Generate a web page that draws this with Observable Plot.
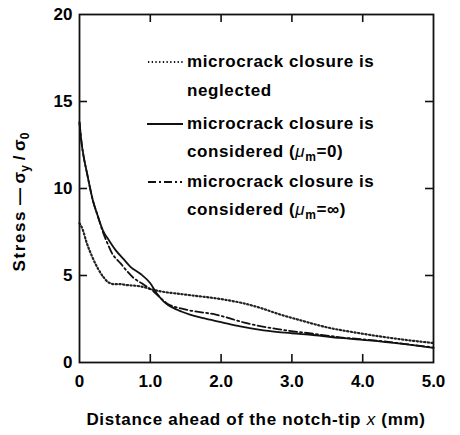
<!DOCTYPE html>
<html>
<head>
<meta charset="utf-8">
<script src="https://cdn.jsdelivr.net/npm/d3@7"></script>
<script src="https://cdn.jsdelivr.net/npm/@observablehq/plot@0.6"></script>
<style>
  html, body { margin: 0; padding: 0; background: #fff; }
  #chart svg { display: block; }
</style>
</head>
<body>
<div id="chart"></div>
<script>
// ---- data ----
const xTicks = [0, 1, 2, 3, 4, 5];
const xTickLabels = ["0", "1.0", "2.0", "3.0", "4.0", "5.0"];
const xInnerTicks = [1, 2, 3, 4];
const yTicks = [0, 5, 10, 15, 20];
const yInnerTicks = [5, 10, 15];

// microcrack closure is neglected (dotted)
const neglectedX = [0, 0.04, 0.1, 0.18, 0.26, 0.34, 0.41, 0.5, 0.58, 0.65, 0.88, 1.05, 1.52, 1.99, 2.36, 2.6, 2.8, 3.1, 3.54, 3.9, 4.24, 4.6, 5.0];
const neglectedY = [8.0, 7.7, 6.9, 6.07, 5.4, 4.9, 4.6, 4.5, 4.5, 4.46, 4.36, 4.17, 3.89, 3.65, 3.36, 3.08, 2.8, 2.45, 1.98, 1.72, 1.5, 1.3, 1.12];

// microcrack closure is considered (mu_m = 0) (solid)
const mu0X = [0, 0.03, 0.06, 0.1, 0.19, 0.26, 0.33, 0.42, 0.51, 0.62, 0.72, 0.86, 1.0, 1.09, 1.19, 1.38, 1.56, 1.75, 2.0, 2.27, 2.6, 3.0, 3.3, 3.68, 4.0, 4.24, 4.6, 5.0];
const mu0Y = [13.8, 12.6, 11.8, 11.0, 9.3, 8.4, 7.6, 7.0, 6.46, 5.95, 5.5, 5.1, 4.55, 3.98, 3.5, 3.03, 2.75, 2.55, 2.32, 2.07, 1.85, 1.68, 1.58, 1.41, 1.3, 1.22, 1.05, 0.84];

// microcrack closure is considered (mu_m = infinity) (dash-dot)
const muInfX = [0, 0.03, 0.06, 0.1, 0.19, 0.26, 0.33, 0.4, 0.46, 0.52, 0.58, 0.65, 0.77, 0.88, 1.05, 1.23, 1.52, 1.94, 2.36, 2.8, 3.3, 3.68, 4.24, 4.6, 5.0];
const muInfY = [13.8, 12.6, 11.8, 11.0, 9.3, 8.4, 7.5, 6.8, 6.27, 5.95, 5.7, 5.35, 4.84, 4.55, 4.07, 3.41, 3.03, 2.74, 2.26, 1.92, 1.65, 1.45, 1.24, 1.06, 0.86];

const toRows = (xs, ys) => xs.map((x, i) => ({x, y: ys[i]}));
const neglected = toRows(neglectedX, neglectedY);
const mu0 = toRows(mu0X, mu0Y);
const muInf = toRows(muInfX, muInfY);

const FONT = "'Liberation Sans', Arial, Helvetica, sans-serif";
const DOTTED = "1.3,2.4";
const DASHDOT = "8,3,2,3";
const TICK = 8;          // inward tick length (px)
const FRAME_H = 435 - 14 - 73;
const FRAME_W = 460 - 79 - 27;

const chart = Plot.plot({
  width: 460,
  height: 435,
  marginLeft: 79,
  marginRight: 27,
  marginTop: 14,
  marginBottom: 73,
  x: {domain: [0, 5]},
  y: {domain: [0, 20]},
  style: {fontFamily: FONT, fontSize: "17px", fontWeight: "bold", color: "#000", background: "#fff"},
  marks: [
    Plot.axisX(xTicks, {anchor: "bottom", tickSize: 0, tickPadding: 12, tickFormat: (d, i) => xTickLabels[i], label: null}),
    Plot.axisY(yTicks, {anchor: "left", tickSize: 0, tickPadding: 7, label: null}),
    Plot.tickX(xInnerTicks, {x: d => d, insetTop: FRAME_H - TICK, stroke: "#111", strokeWidth: 1.6}),
    Plot.tickX(xInnerTicks, {x: d => d, insetBottom: FRAME_H - TICK, stroke: "#111", strokeWidth: 1.6}),
    Plot.tickY(yInnerTicks, {y: d => d, insetRight: FRAME_W - TICK, stroke: "#111", strokeWidth: 1.6}),
    Plot.tickY(yInnerTicks, {y: d => d, insetLeft: FRAME_W - TICK, stroke: "#111", strokeWidth: 1.6}),
    Plot.line(neglected, {x: "x", y: "y", curve: "monotone-x", stroke: "#222", strokeWidth: 2.2, strokeDasharray: DOTTED}),
    Plot.line(muInf, {x: "x", y: "y", curve: "monotone-x", stroke: "#111", strokeWidth: 1.8, strokeDasharray: DASHDOT}),
    Plot.line(mu0, {x: "x", y: "y", curve: "monotone-x", stroke: "#111", strokeWidth: 1.8}),
    Plot.frame({stroke: "#111", strokeWidth: 1.8})
  ]
});
document.getElementById("chart").appendChild(chart);

const svg = d3.select(chart);

// legend
const legend = [
  {dash: DOTTED, w: 2.2, x1: 148, x2: 184, ly: 62, lines: [["microcrack closure is"], ["neglected"]], base: [67, 96]},
  {dash: null, w: 1.8, x1: 147, x2: 183, ly: 124, lines: [["microcrack closure is"], ["considered (", "μ", "m", "=0)"]], base: [129, 157]},
  {dash: DASHDOT, w: 1.8, x1: 148, x2: 182, ly: 182, lines: [["microcrack closure is"], ["considered (", "μ", "m", "=∞)"]], base: [187, 215]}
];
const lg = svg.append("g").attr("font-family", FONT).attr("font-size", 17).attr("font-weight", "bold")
  .attr("fill", "#000").attr("text-anchor", "start");
legend.forEach(e => {
  lg.append("line").attr("x1", e.x1).attr("x2", e.x2).attr("y1", e.ly).attr("y2", e.ly)
    .attr("stroke", "#111").attr("stroke-width", e.w).attr("stroke-dasharray", e.dash);
  e.lines.forEach((parts, j) => {
    const t = lg.append("text").attr("x", 187).attr("y", e.base[j]).style("letter-spacing", "0.6px");
    if (parts.length === 1) {
      t.text(parts[0]);
    } else {
      t.append("tspan").text(parts[0]);
      t.append("tspan").attr("font-style", "italic").attr("font-weight", "normal").text(parts[1]);
      t.append("tspan").attr("font-size", 12).attr("dy", 4).text(parts[2]);
      t.append("tspan").attr("dy", -4).text(parts[3]);
    }
  });
});

// y-axis label
const yl = svg.append("text")
  .attr("transform", "translate(25,202) rotate(-90)")
  .attr("text-anchor", "middle")
  .attr("font-family", FONT).attr("font-size", 17).attr("font-weight", "bold");
yl.append("tspan").style("letter-spacing", "1.6px").text("Stress");
yl.append("tspan").text(" — σ");
yl.append("tspan").attr("font-size", 12).attr("dy", 4).text("y");
yl.append("tspan").attr("dy", -4).text(" / σ");
yl.append("tspan").attr("font-size", 12).attr("dy", 4).text("0");

// x-axis label
const xl = svg.append("text")
  .attr("x", 256).attr("y", 425)
  .attr("text-anchor", "middle")
  .attr("font-family", FONT).attr("font-size", 17).attr("font-weight", "bold")
  .style("letter-spacing", "0.7px");
xl.append("tspan").text("Distance ahead of the notch-tip ");
xl.append("tspan").attr("font-style", "italic").attr("font-weight", "normal").text("x");
xl.append("tspan").text(" (mm)");
</script>
</body>
</html>
